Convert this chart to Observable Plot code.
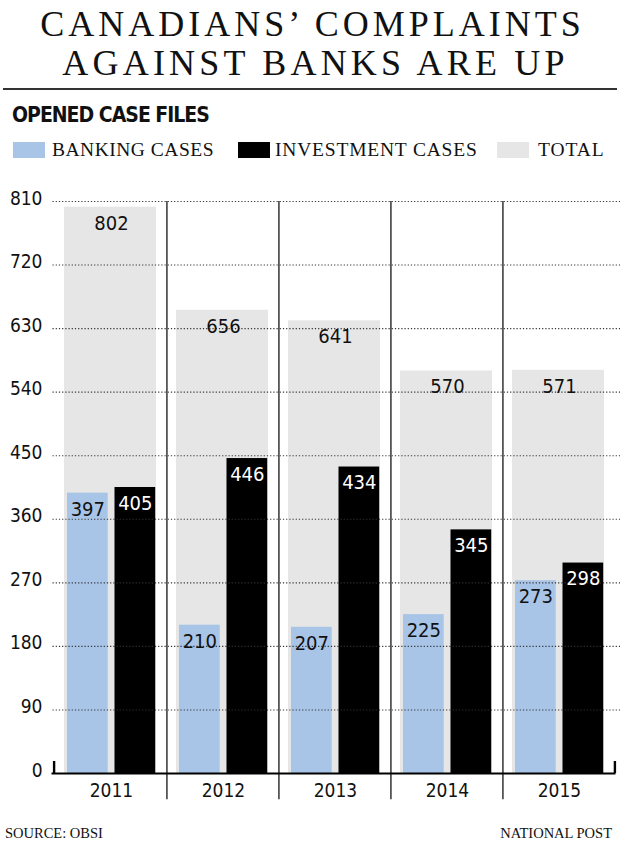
<!DOCTYPE html>
<html><head><meta charset="utf-8">
<script src="https://cdn.jsdelivr.net/npm/d3@7"></script>
<script src="https://cdn.jsdelivr.net/npm/@observablehq/plot@0.6"></script>
<style>
body{margin:0;background:#fff;}
#page{position:relative;width:620px;height:853px;overflow:hidden;background:#fff;}
.serif{font-family:"Liberation Serif","DejaVu Serif",serif;color:#111;}
.sans{font-family:"Liberation Sans Narrow","DejaVu Sans Condensed","Roboto Condensed",sans-serif;font-stretch:condensed;}
.title{position:absolute;left:0;top:5px;width:620px;margin:0;text-align:center;font-size:36px;line-height:39px;padding-left:5px;box-sizing:border-box;font-weight:normal;}
.title span{display:block;}
.rule{position:absolute;left:3px;right:3px;top:88px;height:2px;background:#333;}
.sub{position:absolute;left:12px;top:105px;margin:0;font-weight:bold;font-size:21px;line-height:21px;letter-spacing:-1px;color:#111;}
.sw{position:absolute;top:142px;width:32px;height:16px;}
.lg{position:absolute;top:140px;font-size:19.5px;line-height:19.5px;white-space:nowrap;}
.foot{position:absolute;top:826px;font-size:14.5px;line-height:14.5px;white-space:nowrap;}
#chart{position:absolute;left:0;top:175px;}
</style>
</head><body>
<div id="page">
  <h1 class="title serif"><span style="letter-spacing:4px;">CANADIANS’ COMPLAINTS</span><span style="letter-spacing:4.2px;padding-left:6px;">AGAINST BANKS ARE UP</span></h1>
  <div class="rule"></div>
  <div class="sub sans">OPENED CASE FILES</div>
  <div id="legend"></div>
  <div id="chart"></div>
  <div class="foot serif" style="left:5px;">SOURCE: OBSI</div>
  <div class="foot serif" style="right:8px;">NATIONAL POST</div>
</div>
<script>
const years = ["2011", "2012", "2013", "2014", "2015"];
const banking = [397, 210, 207, 225, 273];
const investment = [405, 446, 434, 345, 298];
const total = [802, 656, 641, 570, 571];
const yTicks = [0, 90, 180, 270, 360, 450, 540, 630, 720, 810];
const seriesNames = ["BANKING CASES", "INVESTMENT CASES", "TOTAL"];
const seriesColors = ["#a8c4e7", "#000000", "#e6e6e6"];

const rows = years.map((y, i) => ({year: y, banking: banking[i], investment: investment[i], total: total[i]}));

// legend
const legendPos = [{sw: 13, tx: 52, ls: "0.5px"}, {sw: 238, tx: 275, ls: "0.8px"}, {sw: 497, tx: 538, ls: "0.9px"}];
const legend = document.getElementById("legend");
seriesNames.forEach((name, i) => {
  const s = document.createElement("div");
  s.className = "sw";
  s.style.left = legendPos[i].sw + "px";
  s.style.background = seriesColors[i];
  legend.appendChild(s);
  const t = document.createElement("div");
  t.className = "lg serif";
  t.style.left = legendPos[i].tx + "px";
  t.style.letterSpacing = legendPos[i].ls;
  t.textContent = name;
  legend.appendChild(t);
});

const SANS = '"Liberation Sans Narrow","DejaVu Sans Condensed","Roboto Condensed",sans-serif';
const W = 620, H = 635, mL = 51.5, mR = 4.5, mT = 26, mB = 37;
const bw = (W - mL - mR) / years.length;
const bankL = 13, barW = 41.5, gap = 6;
const invL = bankL + barW + gap, invR = bw - invL - barW;

const chart = Plot.plot({
  width: W, height: H,
  marginLeft: mL, marginRight: mR, marginTop: mT, marginBottom: mB,
  style: {fontFamily: SANS, fontStretch: "condensed", fontSize: "19px", color: "#111", background: "transparent", overflow: "visible"},
  x: {domain: years, padding: 0},
  y: {domain: [0, 810]},
  marks: [
    Plot.barY(rows, {x: "year", y: "total", fill: seriesColors[2], insetLeft: 10, insetRight: 10}),
    Plot.barY(rows, {x: "year", y: "banking", fill: seriesColors[0], insetLeft: bankL, insetRight: bw - bankL - barW}),
    Plot.barY(rows, {x: "year", y: "investment", fill: seriesColors[1], insetLeft: invL, insetRight: invR}),
    Plot.ruleY(yTicks.filter(d => d > 0), {stroke: "#333", strokeWidth: 1.1, strokeDasharray: "1.2,2", insetLeft: 1, insetRight: -mR}),
    Plot.ruleX(years.slice(0, -1), {x: d => d, y1: 810, y2: -37, dx: bw / 2, stroke: "#555", strokeWidth: 1.8}),
    Plot.ruleY([0], {stroke: "#000", strokeWidth: 2}),
    Plot.ruleX([years[0]], {x: d => d, y1: 0, y2: 17, dx: -bw / 2, stroke: "#000", strokeWidth: 2.4}),
    Plot.ruleX([years[years.length - 1]], {x: d => d, y1: 0, y2: 17, dx: bw / 2, stroke: "#000", strokeWidth: 2.4}),
    Plot.axisY({ticks: yTicks, tickSize: 0, tickPadding: 9.5, dy: -3, label: null, fontSize: 19}),
    Plot.axisX({tickSize: 0, tickPadding: 10, label: null, fontSize: 19, dx: 1}),
    Plot.text(rows, {x: "year", y: "total", text: d => String(d.total), dy: 16, dx: 1, fill: "#111", fontSize: 20}),
    Plot.text(rows, {x: "year", y: "banking", text: d => String(d.banking), dy: 16, dx: bankL + barW / 2 - bw / 2, fill: "#111", fontSize: 20}),
    Plot.text(rows, {x: "year", y: "investment", text: d => String(d.investment), dy: 16, dx: invL + barW / 2 - bw / 2, fill: "#fff", fontSize: 20})
  ]
});
document.getElementById("chart").appendChild(chart);
</script>
</body></html>
